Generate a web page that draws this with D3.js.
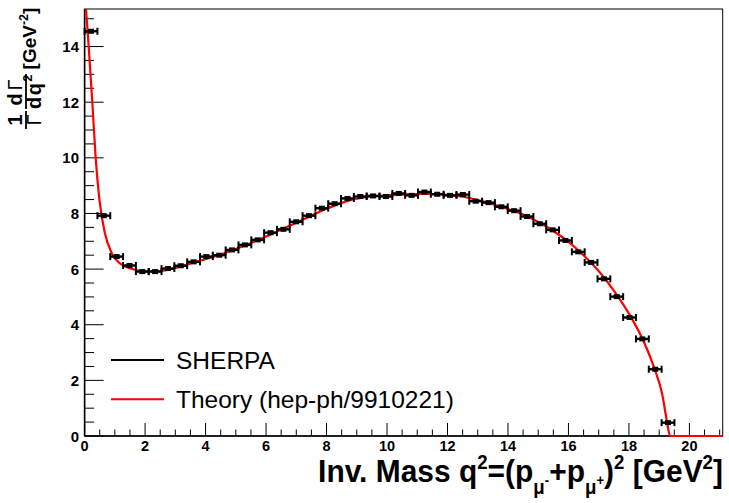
<!DOCTYPE html>
<html><head><meta charset="utf-8">
<script src="https://cdn.jsdelivr.net/npm/d3@7"></script>
<style>body{margin:0;background:#fff;} svg{display:block;}</style>
</head><body>
<script>
// ---- data ----
const binCenters = [0.212,0.636,1.06,1.484,1.908,2.332,2.756,3.18,3.604,4.028,4.452,4.876,5.3,5.724,6.148,6.572,6.996,7.42,7.844,8.268,8.692,9.116,9.54,9.964,10.388,10.812,11.236,11.66,12.084,12.508,12.932,13.356,13.78,14.204,14.628,15.052,15.476,15.9,16.324,16.748,17.172,17.596,18.02,18.444,18.868,19.292];
const binHalfWidth = 0.212;
const sherpaValues = [14.55,7.92,6.45,6.13,5.91,5.91,6.02,6.12,6.26,6.45,6.50,6.69,6.87,7.05,7.31,7.43,7.70,7.92,8.19,8.35,8.54,8.61,8.63,8.61,8.72,8.65,8.77,8.69,8.65,8.68,8.44,8.39,8.24,8.10,7.89,7.63,7.41,7.03,6.62,6.24,5.65,5.01,4.26,3.49,2.40,0.48];
const theoryQ2 = [0.03,0.135,0.255,0.366,0.49,0.67,0.9,1.17,1.5,2.0,2.5,3.0,3.5,4.0,4.5,5.0,5.5,6.0,6.5,7.0,7.5,8.0,8.5,9.0,9.5,10.0,10.5,11.0,11.5,12.0,12.5,13.0,13.5,14.0,14.5,15.0,15.5,16.0,16.5,17.0,17.5,18.0,18.5,18.85,19.1,19.26,19.36,21.1];
const theoryValues = [15.6,14.0,12.0,10.0,8.5,7.3,6.57,6.2,6.03,5.92,5.93,6.04,6.2,6.36,6.52,6.72,6.94,7.17,7.42,7.67,7.93,8.17,8.38,8.53,8.61,8.65,8.68,8.7,8.7,8.67,8.6,8.48,8.33,8.16,7.96,7.69,7.37,6.98,6.5,5.93,5.23,4.4,3.37,2.4,1.5,0.5,0,0];
const xTicks = [0,2,4,6,8,10,12,14,16,18,20];
const yTicks = [0,2,4,6,8,10,12,14];
const legendLabels = ["SHERPA","Theory (hep-ph/9910221)"];
const legendColors = ["#000000","#ff0000"];

const W = 729, H = 503;
const L = 84.6, R = 722.7, T = 9, B = 436;
const x = d3.scaleLinear().domain([0,21.1]).range([L,R]);
const y = d3.scaleLinear().domain([0,15.35]).range([B,T]);

const svg = d3.select("body").append("svg").attr("width",W).attr("height",H)
  .style("font-family","'Liberation Sans', Arial, Helvetica, sans-serif");

svg.append("defs").append("clipPath").attr("id","clip")
  .append("rect").attr("x",L).attr("y",T).attr("width",R-L).attr("height",B-T+1);

// frame
svg.append("rect").attr("x",L).attr("y",T).attr("width",R-L).attr("height",B-T)
  .attr("fill","none").attr("stroke","#000").attr("stroke-width",1);

// x axis ticks
const xMinor = d3.range(0,21.1,0.5);
svg.append("g").selectAll("line").data(xMinor).join("line")
  .attr("x1",d=>x(d)).attr("x2",d=>x(d)).attr("y1",B)
  .attr("y2",d=> (Math.abs(d%2)<1e-9) ? B-13 : B-6.5)
  .attr("stroke","#000").attr("stroke-width",1);
svg.append("g").selectAll("text").data(xTicks).join("text")
  .attr("x",d=>x(d)).attr("y",451).attr("text-anchor","middle")
  .attr("font-weight","bold").attr("font-size",14.5).text(d=>d);

// y axis ticks
const yMinor = d3.range(0,15.35,0.5);
svg.append("g").selectAll("line").data(yMinor).join("line")
  .attr("y1",d=>y(d)).attr("y2",d=>y(d)).attr("x1",L)
  .attr("x2",d=> (Math.abs(d%2)<1e-9) ? L+19 : L+9.5)
  .attr("stroke","#000").attr("stroke-width",1);
svg.append("g").selectAll("text").data(yTicks).join("text")
  .attr("x",79).attr("y",d=>y(d)+5.5).attr("text-anchor","end")
  .attr("font-weight","bold").attr("font-size",15).text(d=>d);

// axis lines thicker
svg.append("line").attr("x1",L).attr("x2",R).attr("y1",B).attr("y2",B).attr("stroke","#000").attr("stroke-width",1.6);
svg.append("line").attr("x1",L).attr("x2",L).attr("y1",T).attr("y2",B).attr("stroke","#000").attr("stroke-width",1.6);

// theory curve
const theory = theoryQ2.map((q,i)=>[q,theoryValues[i]]);
svg.append("path").datum(theory).attr("clip-path","url(#clip)")
  .attr("d", d3.line().x(d=>x(d[0])).y(d=>y(d[1])).curve(d3.curveMonotoneX))
  .attr("fill","none").attr("stroke","#ff0000").attr("stroke-width",2.2);

// SHERPA points
const pts = svg.append("g");
binCenters.forEach((c,i)=>{
  const v = sherpaValues[i];
  const x0 = x(c-binHalfWidth), x1 = x(c+binHalfWidth), yy = y(v);
  pts.append("line").attr("x1",x0).attr("x2",x1).attr("y1",yy).attr("y2",yy).attr("stroke","#000").attr("stroke-width",2.4);
  [x0,x1].forEach(xx=>pts.append("line").attr("x1",xx).attr("x2",xx).attr("y1",yy-3.5).attr("y2",yy+3.5).attr("stroke","#000").attr("stroke-width",2));
  pts.append("rect").attr("x",x(c)-3).attr("y",yy-2.5).attr("width",6).attr("height",5).attr("fill","#000");
});

// legend
legendLabels.forEach((lab,i)=>{
  const ly = 360 + i*39.3;
  svg.append("line").attr("x1",111).attr("x2",164).attr("y1",ly).attr("y2",ly)
    .attr("stroke",legendColors[i]).attr("stroke-width",2);
  svg.append("text").attr("x",176).attr("y",ly+9).attr("font-size",24.5).text(lab);
});

// x title
const xt = svg.append("text").attr("x",723).attr("y",482).attr("text-anchor","end")
  .attr("font-weight","bold").attr("font-size",32);
const parts = [
  ["Inv. Mass q",32,0],["2",20,-13],["=(p",32,13],["μ",20,12],["-",14,-9],
  ["+p",32,-3],["μ",20,12],["+",14,-9],[")",32,-3],["2",20,-13],[" [GeV",32,13],["2",20,-13],["]",32,13]
];
parts.forEach(p=>xt.append("tspan").attr("font-size",p[1]).attr("dy",p[2]).text(p[0]));
const bw = xt.node().getBBox().width;
const s = 405/bw;
xt.attr("transform",`translate(723,0) scale(${s},1) translate(-723,0)`);

// y title (rotated)
function rtext(sx, sy, str, size, weight){
  return svg.append("text").attr("transform",`translate(${sx},${sy}) rotate(-90)`)
    .attr("text-anchor","middle").attr("font-size",size).attr("font-weight",weight||"bold").text(str);
}
// [GeV^-2]
const g1 = svg.append("text").attr("transform",`translate(36,38.5) rotate(-90)`).attr("text-anchor","middle")
  .attr("font-size",19).attr("font-weight","bold");
g1.append("tspan").text("[GeV");
g1.append("tspan").attr("font-size",12.5).attr("dy",-8).text("-2");
g1.append("tspan").attr("dy",8).text("]");
// dΓ / dq²
const n1 = svg.append("text").attr("transform",`translate(21.5,91) rotate(-90)`).attr("text-anchor","middle")
  .attr("font-size",20).attr("font-weight","bold").attr("letter-spacing",3);
n1.append("tspan").text("d");
n1.append("tspan").attr("font-weight","normal").text("Γ");
svg.append("line").attr("x1",26).attr("x2",26).attr("y1",74).attr("y2",109).attr("stroke","#000").attr("stroke-width",1.8);
const d1 = svg.append("text").attr("transform",`translate(41,91) rotate(-90)`).attr("text-anchor","middle")
  .attr("font-size",20).attr("font-weight","bold").attr("letter-spacing",1.5);
d1.append("tspan").text("dq");
d1.append("tspan").attr("font-size",13).attr("dy",-9).text("2");
// 1 / Γ
rtext(21.5,120,"1",20,"bold");
svg.append("line").attr("x1",26).attr("x2",26).attr("y1",111).attr("y2",129).attr("stroke","#000").attr("stroke-width",1.8);
rtext(41,120,"Γ",20,"normal");
</script>
</body></html>
